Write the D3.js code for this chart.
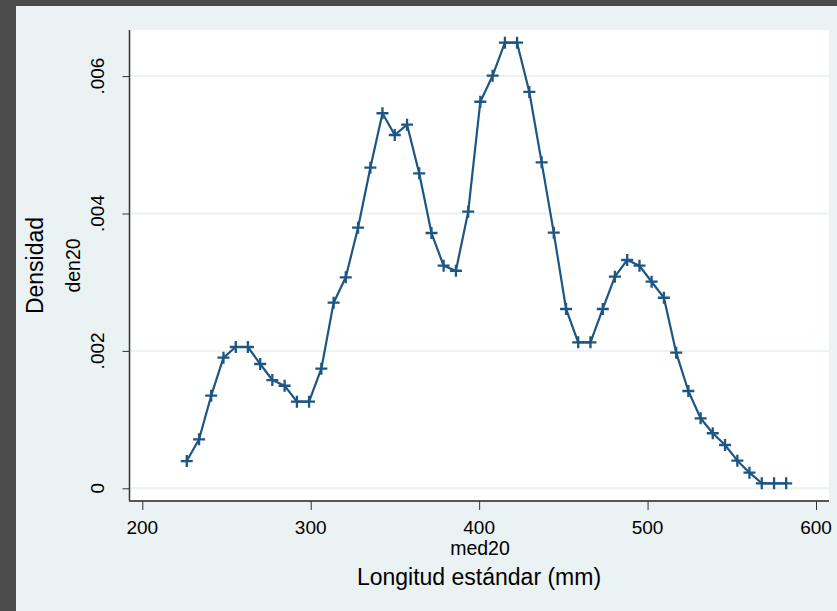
<!DOCTYPE html>
<html>
<head>
<meta charset="utf-8">
<script src="https://cdn.jsdelivr.net/npm/d3@7"></script>
<style>
  html, body { margin: 0; padding: 0; background: #4b4b4b; }
  svg { display: block; }
  text { font-family: "Liberation Sans", Arial, sans-serif; fill: #000; }
</style>
</head>
<body>
<script>
// Kernel density estimate of standard length (mm)
const med20 = [
  226.4, 233.7, 240.9, 248.2, 255.5, 262.7, 270.0, 277.2, 284.5, 291.8,
  299.0, 306.3, 313.6, 320.8, 328.1, 335.4, 342.6, 349.9, 357.2, 364.4,
  371.7, 378.9, 386.2, 393.5, 400.7, 408.0, 415.3, 422.5, 429.8, 437.1,
  444.3, 451.6, 458.8, 466.1, 473.4, 480.6, 487.9, 495.2, 502.4, 509.7,
  517.0, 524.2, 531.5, 538.7, 546.0, 553.3, 560.5, 567.8, 575.1, 582.3
];
const den20 = [
  0.000397, 0.000713, 0.001348, 0.001901, 0.002057, 0.002057, 0.001809, 0.001576, 0.001493, 0.001261,
  0.001261, 0.001741, 0.002702, 0.003071, 0.003793, 0.004667, 0.005459, 0.005143, 0.005293, 0.004585,
  0.003716, 0.003240, 0.003167, 0.004026, 0.005627, 0.006006, 0.006486, 0.006486, 0.005769, 0.004745,
  0.003721, 0.002610, 0.002125, 0.002125, 0.002610, 0.003080, 0.003323, 0.003240, 0.003007, 0.002774,
  0.001974, 0.001416, 0.001019, 0.000801, 0.000630, 0.000402, 0.000227, 0.000073, 0.000073, 0.000073
];
const xTicks = [200, 300, 400, 500, 600];
const yTicks = [0, 0.002, 0.004, 0.006];
const yTickLabels = ["0", ".002", ".004", ".006"];
const xVarLabel = "med20";
const xTitle = "Longitud estándar (mm)";
const yVarLabel = "den20";
const yTitle = "Densidad";

const W = 837, H = 611;
const lineColor = "#1d5583";
const plot = { left: 130, right: 829, top: 30, bottom: 501 };

const svg = d3.select("body").append("svg").attr("width", W).attr("height", H);

// outer frame and graph background
svg.append("rect").attr("x", 0).attr("y", 0).attr("width", W).attr("height", H).attr("fill", "#4b4b4b");
svg.append("rect").attr("x", 16).attr("y", 6).attr("width", W - 16).attr("height", H - 6).attr("fill", "#eaf2f3");
svg.append("rect")
  .attr("x", plot.left).attr("y", plot.top)
  .attr("width", plot.right - plot.left).attr("height", plot.bottom - plot.top)
  .attr("fill", "#ffffff");

const x = d3.scaleLinear().domain([200, 600]).range([142.3, 816]);
const y = d3.scaleLinear().domain([0, 0.006]).range([488.3, 76.1]);

// horizontal grid
svg.append("g").selectAll("line").data(yTicks).join("line")
  .attr("x1", plot.left).attr("x2", plot.right)
  .attr("y1", d => y(d)).attr("y2", d => y(d))
  .attr("stroke", "#eaf2f3").attr("stroke-width", 2);

// y axis
const yAxis = svg.append("g").attr("transform", `translate(${plot.left - 0.5},0)`)
  .call(d3.axisLeft(y).tickValues(yTicks).tickSize(7).tickFormat(""));
yAxis.select(".domain").attr("d", `M0,${plot.top}V${plot.bottom}`).attr("stroke", "#333").attr("stroke-width", 1.5);
yAxis.selectAll(".tick line").attr("stroke", "#333").attr("stroke-width", 1);

svg.append("g").selectAll("text").data(yTicks).join("text")
  .attr("transform", (d) => `translate(104,${y(d)}) rotate(-90)`)
  .attr("text-anchor", "middle")
  .style("font-size", "19px")
  .text((d, i) => yTickLabels[i]);

// x axis
const xAxis = svg.append("g").attr("transform", `translate(0,${plot.bottom})`)
  .call(d3.axisBottom(x).tickValues(xTicks).tickSize(9).tickFormat(""));
xAxis.select(".domain").attr("d", `M${plot.left - 1},0H${plot.right}`).attr("stroke", "#555").attr("stroke-width", 2);
xAxis.selectAll(".tick line").attr("stroke", "#333").attr("stroke-width", 1);

svg.append("g").selectAll("text").data(xTicks).join("text")
  .attr("x", d => x(d)).attr("y", 534)
  .attr("text-anchor", "middle")
  .style("font-size", "19px")
  .text(d => d);

// axis titles
svg.append("text").attr("x", (plot.left + plot.right) / 2 + 0.5).attr("y", 555)
  .attr("text-anchor", "middle").style("font-size", "19.5px").text(xVarLabel);
svg.append("text").attr("x", (plot.left + plot.right) / 2 - 0.5).attr("y", 585)
  .attr("text-anchor", "middle").style("font-size", "23px").text(xTitle);
svg.append("text").attr("transform", `translate(80,${(plot.top + plot.bottom) / 2}) rotate(-90)`)
  .attr("text-anchor", "middle").style("font-size", "19.5px").text(yVarLabel);
svg.append("text").attr("transform", `translate(42.5,${(plot.top + plot.bottom) / 2}) rotate(-90)`)
  .attr("text-anchor", "middle").style("font-size", "23px").text(yTitle);

// density line with plus markers
const pts = med20.map((v, i) => [v, den20[i]]);
const line = d3.line().x(d => x(d[0])).y(d => y(d[1]));
svg.append("path").datum(pts)
  .attr("d", line)
  .attr("fill", "none").attr("stroke", lineColor).attr("stroke-width", 2.2).attr("stroke-linejoin", "round");

const arm = 6;
svg.append("g").selectAll("path").data(pts).join("path")
  .attr("d", d => {
    const cx = x(d[0]), cy = y(d[1]);
    return `M${cx - arm},${cy}H${cx + arm}M${cx},${cy - arm}V${cy + arm}`;
  })
  .attr("stroke", lineColor).attr("stroke-width", 2.3).attr("fill", "none");
</script>
</body>
</html>
